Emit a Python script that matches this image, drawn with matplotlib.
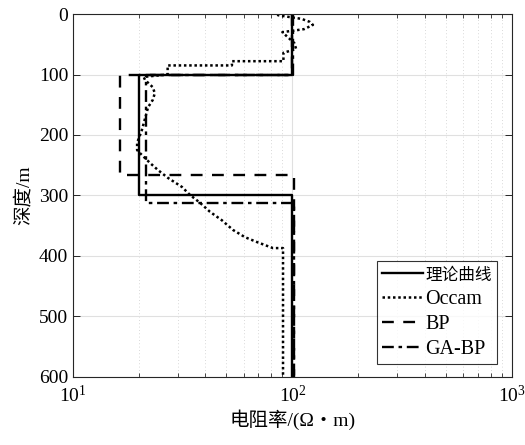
import matplotlib
matplotlib.use("Agg")
import matplotlib.pyplot as plt
from matplotlib.ticker import LogLocator, NullFormatter, FixedLocator

plt.rcParams['font.family'] = ['Liberation Serif', 'Noto Sans CJK SC', 'DejaVu Sans']
plt.rcParams['mathtext.fontset'] = 'stix'

# Theoretical model (depth, resistivity) step
theory_depth = [0, 100, 100, 300, 300, 600]
theory_rho = [100, 100, 20, 20, 100, 100]

# Occam inversion
occam_depth = [0, 2, 5, 8, 13, 18, 25, 30, 38, 48, 58, 64, 78, 78, 85, 85, 100, 104,
               109, 121, 131, 142, 154, 192, 213, 225, 230, 246, 258, 271, 286, 299,
               312, 327, 341, 357, 369, 377, 387, 387, 600]
occam_rho = [86, 86, 97, 110, 120, 124, 113, 90, 95, 102, 104, 91, 91, 53, 53, 27, 27, 21,
             21.3, 23.1, 23.6, 23.1, 22.0, 20.6, 19.6, 19.6, 20.2, 22.4, 24.4, 27.1, 31.4, 34.1,
             37.9, 42.1, 47.7, 53.6, 60.8, 68.9, 81.5, 90.6, 90.6]

# BP inversion
bp_depth = [0, 100, 100, 266, 266, 600]
bp_rho = [100, 100, 16.3, 16.3, 102, 102]

# GA-BP inversion
gabp_depth = [0, 100, 100, 312, 312, 600]
gabp_rho = [101, 101, 21.6, 21.6, 102, 102]

fig = plt.figure(figsize=(5.25, 4.45), dpi=100)
ax = fig.add_axes([0.139, 0.153, 0.836, 0.8155])

ax.plot(theory_rho, theory_depth, color='black', lw=1.7, ls='-', label='理论曲线')
ax.plot(occam_rho, occam_depth, color='black', lw=1.8, ls=(0, (1, 1.1)), label='Occam')
ax.plot(bp_rho, bp_depth, color='black', lw=1.7, ls=(0, (5, 4)), label='BP')
ax.plot(gabp_rho, gabp_depth, color='black', lw=1.7, ls=(0, (5, 2, 1.5, 2)), label='GA-BP')

ax.set_xscale('log')
ax.set_xlim(10, 1000)
ax.set_ylim(600, 0)
ax.yaxis.set_major_locator(FixedLocator([0, 100, 200, 300, 400, 500, 600]))
ax.xaxis.set_major_locator(LogLocator(base=10))
ax.xaxis.set_minor_locator(LogLocator(base=10, subs=range(2, 10)))
ax.xaxis.set_minor_formatter(NullFormatter())

ax.grid(True, which='major', axis='y', color='#e0e0e0', lw=0.8, ls='-')
ax.grid(True, which='major', axis='x', color='#e0e0e0', lw=0.8, ls='-')
ax.grid(True, which='minor', axis='x', color='#cccccc', lw=0.6, ls=(0, (1, 3)))
ax.set_axisbelow(True)

ax.tick_params(which='both', direction='in', top=True, right=True, labelsize=14,
               colors='#262626', labelcolor='black')
ax.tick_params(which='major', length=5, width=0.7)
ax.tick_params(which='minor', length=3, width=0.6)
ax.tick_params(axis='x', pad=6)
for s in ax.spines.values():
    s.set_color('#262626')
    s.set_linewidth(0.8)

ax.set_xlabel('电阻率/(Ω・m)', fontsize=14, labelpad=2)
ax.set_ylabel('深度/m', fontsize=14, labelpad=4)

leg = ax.legend(loc='lower right', bbox_to_anchor=(0.966, 0.035), fontsize=14.5,
                frameon=True, fancybox=False, edgecolor='black', handlelength=2.05,
                handletextpad=0.12, borderpad=0.25, labelspacing=0.3, borderaxespad=0)
leg.get_frame().set_linewidth(0.8)
leg.get_texts()[0].set_fontsize(12)

fig.savefig('out.png', dpi=100)
